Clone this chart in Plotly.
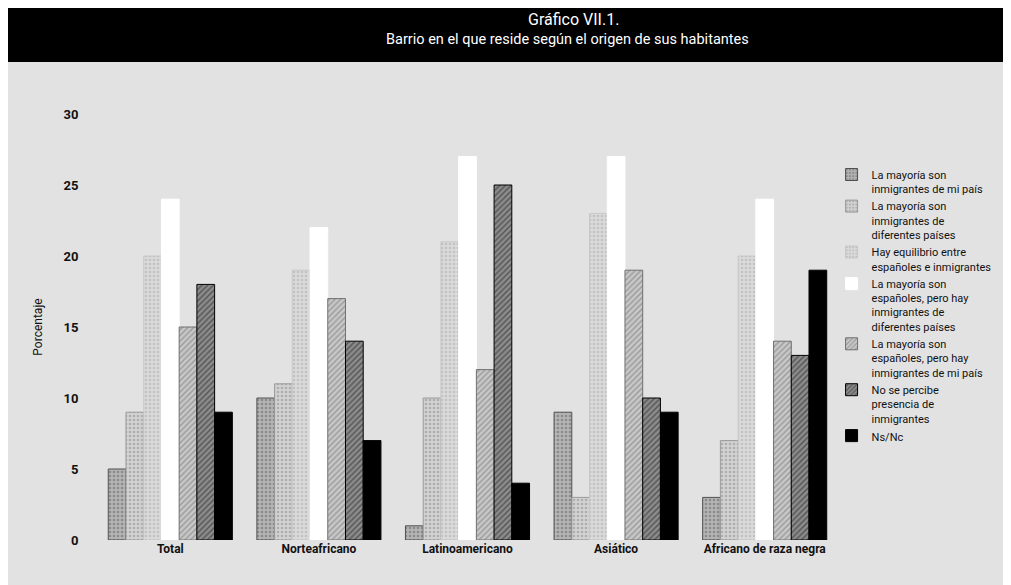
import plotly.graph_objects as go

# Categorías y series (porcentaje)
categorias = ["Total", "Norteafricano", "Latinoamericano", "Asiático", "Africano de raza negra"]

series_nombres = [
    "La mayoría son<br>inmigrantes de mi país",
    "La mayoría son<br>inmigrantes de<br>diferentes países",
    "Hay equilibrio entre<br>españoles e inmigrantes",
    "La mayoría son<br>españoles, pero hay<br>inmigrantes de<br>diferentes países",
    "La mayoría son<br>españoles, pero hay<br>inmigrantes de mi país",
    "No se percibe<br>presencia de<br>inmigrantes",
    "Ns/Nc",
]

mi_pais = [5, 10, 1, 9, 3]
diferentes_paises = [9, 11, 10, 3, 7]
equilibrio = [20, 19, 21, 23, 20]
espanoles_diferentes = [24, 22, 27, 27, 24]
espanoles_mi_pais = [15, 17, 12, 19, 14]
no_percibe = [18, 14, 25, 10, 13]
ns_nc = [9, 7, 4, 9, 19]

y_ticks = [0, 5, 10, 15, 20, 25, 30]

FONT = "Roboto, sans-serif"
BG = "#E2E2E2"

# estilos: (color, patrón, color del patrón, borde)
estilos = [
    ("#B4B4B4", ".", "#606060", "#505050"),
    ("#D2D2D2", ".", "#8A8A8A", "#9A9A9A"),
    ("#DADADA", ".", "#A8A8A8", "#C8C8C8"),
    ("#FFFFFF", "", "#FFFFFF", "#FFFFFF"),
    ("#C8C8C8", "/", "#6A6A6A", "#707070"),
    ("#8C8C8C", "/", "#1A1A1A", "#000000"),
    ("#000000", "", "#000000", "#000000"),
]

valores = [mi_pais, diferentes_paises, equilibrio, espanoles_diferentes,
           espanoles_mi_pais, no_percibe, ns_nc]

fig = go.Figure()
for nombre, vals, (color, shape, fg, borde) in zip(series_nombres, valores, estilos):
    fig.add_trace(go.Bar(
        x=categorias, y=vals, name=nombre,
        marker=dict(
            color=color,
            line=dict(color=borde, width=1),
            pattern=dict(shape=shape, fgcolor=fg, size=4, solidity=0.35, fillmode="overlay"),
        ),
    ))

# la página añade 8 px de margen, se compensa en los márgenes
fig.update_layout(
    width=1011, height=585,
    barmode="group", bargap=0.165, bargroupgap=0,
    paper_bgcolor=BG, plot_bgcolor=BG,
    font=dict(family=FONT, color="#111111", size=12),
    margin=dict(l=88, r=180, t=106, b=53),
    showlegend=True,
    legend=dict(
        x=0.99, y=0.89, xanchor="left", yanchor="top",
        bgcolor="rgba(0,0,0,0)",
        font=dict(family=FONT, size=11, color="#111111"),
        valign="top", tracegroupgap=6, itemwidth=30,
    ),
)

fig.update_xaxes(showgrid=False, zeroline=False, showline=False, ticks="",
                 tickfont=dict(family=FONT, size=12, color="#111111", weight="bold"))
fig.update_yaxes(range=[0, 30], tickvals=y_ticks, showgrid=False, zeroline=False,
                 showline=False, ticks="outside", ticklen=14, tickcolor="rgba(0,0,0,0)",
                 tickfont=dict(family=FONT, size=13, color="#111111", weight="bold"),
                 title=dict(text="Porcentaje", standoff=18,
                            font=dict(family=FONT, size=12, color="#111111")))

# Barra negra del título
fig.add_shape(type="rect", xref="paper", yref="paper",
              x0=-0.13, x1=1.25, y0=1.122, y1=1.27,
              fillcolor="#000000", line=dict(width=0), layer="above")
fig.add_annotation(text="Gráfico VII.1.", xref="paper", yref="paper",
                   x=0.643, y=1.223, xanchor="center", yanchor="middle", showarrow=False,
                   font=dict(family=FONT, size=16, color="#FFFFFF"))
fig.add_annotation(text="Barrio en el que reside según el origen de sus habitantes",
                   xref="paper", yref="paper", x=0.634, y=1.176,
                   xanchor="center", yanchor="middle", showarrow=False,
                   font=dict(family=FONT, size=14.5, color="#FFFFFF"))

fig.write_html("out.html")
